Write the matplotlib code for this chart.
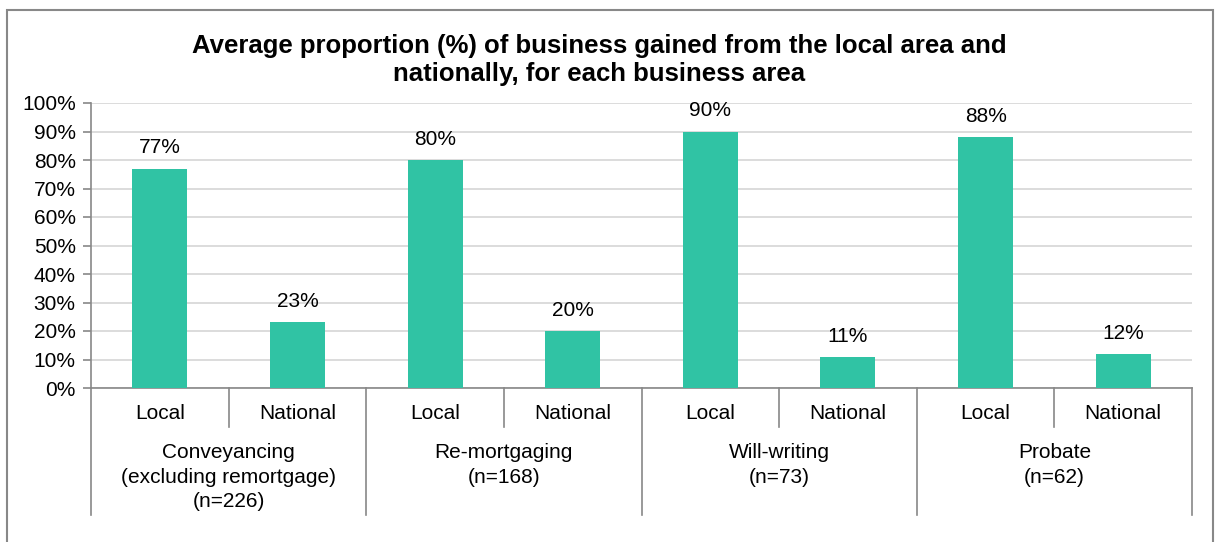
import matplotlib.pyplot as plt
from matplotlib.patches import Rectangle
from matplotlib.lines import Line2D
from matplotlib.ticker import FuncFormatter

plt.rcParams["font.family"] = ["Liberation Sans", "DejaVu Sans"]

# Daten
gruppen = ["Conveyancing\n(excluding remortgage)\n(n=226)", "Re-mortgaging\n(n=168)",
           "Will-writing\n(n=73)", "Probate\n(n=62)"]
unterkategorien = ["Local", "National"]
werte = [77, 23, 80, 20, 90, 11, 88, 12]

farbe = "#30C3A4"
grau = "#888888"
fs = 15

fig = plt.figure(figsize=(12.2, 5.42), dpi=100)
W, H = 1220, 542

# Rahmen um die Grafik
fig.patches.append(Rectangle((7 / W, -0.05), 1206 / W, (542 - 10) / H + 0.05,
                             transform=fig.transFigure, fill=False,
                             edgecolor=grau, linewidth=1.5))

ax = fig.add_axes([91 / W, (H - 388) / H, 1101 / W, 285 / H])

x = list(range(len(werte)))
bars = ax.bar(x, werte, width=0.4, color=farbe, zorder=3)
for b, v in zip(bars, werte):
    ax.annotate(f"{v}%", (b.get_x() + b.get_width() / 2, v), xytext=(0, 8),
                textcoords="offset points", ha="center", va="bottom", fontsize=fs)

ax.set_xlim(-0.5, len(werte) - 0.5)
ax.set_ylim(0, 100)
ax.set_yticks(range(0, 101, 10))
ax.yaxis.set_major_formatter(FuncFormatter(lambda v, p: f"{int(v)}%"))
ax.tick_params(axis="y", labelsize=fs, length=6, width=1.2, color=grau, pad=5)
ax.set_xticks([])
ax.grid(axis="y", color="#D9D9D9", linewidth=1.3, zorder=0)
for s in ["top", "right"]:
    ax.spines[s].set_visible(False)
for s in ["left", "bottom"]:
    ax.spines[s].set_color(grau)
    ax.spines[s].set_linewidth(1.2)

# Mehrstufige Kategorieachse
tr = ax.get_xaxis_transform()
for i, v in enumerate(werte):
    ax.text(i, -0.088, unterkategorien[i % 2], transform=tr, ha="center",
            va="center", fontsize=fs)
for g, name in enumerate(gruppen):
    ax.text(2 * g + 0.5, -0.193, name, transform=tr, ha="center", va="top",
            fontsize=fs, linespacing=1.38)
    # Trennlinie zwischen Local und National
    ax.add_line(Line2D([2 * g + 0.5] * 2, [0, -0.137], transform=tr, color=grau,
                       linewidth=1.2, clip_on=False))
for g in range(len(gruppen) + 1):
    ax.add_line(Line2D([2 * g - 0.5] * 2, [0, -0.446], transform=tr, color=grau,
                       linewidth=1.2, clip_on=False))

fig.text(599 / W, 1 - 60 / H,
         "Average proportion (%) of business gained from the local area and\n"
         "nationally, for each business area",
         ha="center", va="center", fontsize=18.5, fontweight="bold", linespacing=1.25)

fig.savefig("out.png", dpi=100)
